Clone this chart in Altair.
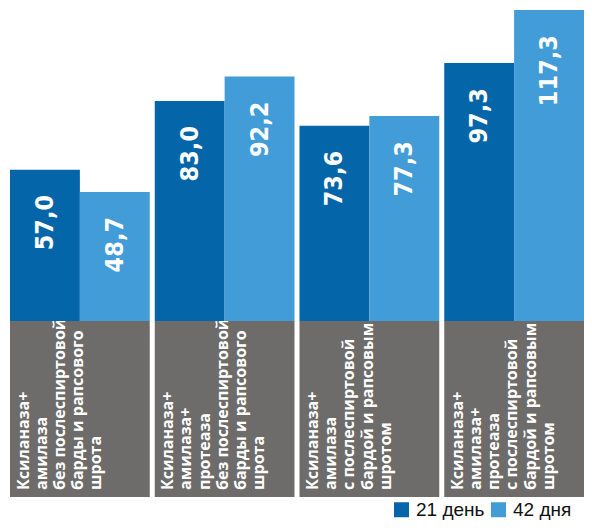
import altair as alt
import pandas as pd

# ---- data ----
group_lines = [
    ["Ксиланаза+", "амилаза", "без послеспиртовой", "барды и рапсового", "шрота"],
    ["Ксиланаза+", "амилаза+", "протеаза", "без послеспиртовой", "барды и рапсового", "шрота"],
    ["Ксиланаза+", "амилаза", "с послеспиртовой", "бардой и рапсовым", "шротом"],
    ["Ксиланаза+", "амилаза+", "протеаза", "с послеспиртовой", "бардой и рапсовым", "шротом"],
]
series = ["21 день", "42 дня"]
values_21 = [57.0, 83.0, 73.6, 97.3]
values_42 = [48.7, 92.2, 77.3, 117.3]

colors = ["#0565A9", "#419CD7"]
gray = "#6E6C6A"

groups = [" ".join(l) for l in group_lines]

rows = []
for g, v21, v42 in zip(groups, values_21, values_42):
    for s, v in zip(series, [v21, v42]):
        rows.append({"group": g, "series": s, "value": v,
                     "label": f"{v:.1f}".replace(".", ",")})
bars_df = pd.DataFrame(rows)
labels_df = pd.DataFrame({"group": groups, "lines": group_lines})

# ---- layout ----
W = 574
H_BAR = 311
H_BOX = 176
H = H_BAR + H_BOX

xscale = alt.Scale(domain=groups, paddingInner=5 / 144.75, paddingOuter=0)
yscale = alt.Scale(domain=[0, 117.3], range=[H_BAR, 0], nice=False, zero=True)
num_font = "Liberation Sans Narrow, DejaVu Sans Condensed, Roboto Condensed, Roboto, sans-serif"

x_enc = alt.X("group:N", scale=xscale, axis=None, sort=groups)
xoff_enc = alt.XOffset("series:N", scale=alt.Scale(domain=series, paddingInner=0, paddingOuter=0))

boxes = alt.Chart(labels_df).mark_rect(color=gray).encode(
    x=x_enc,
    y=alt.value(H_BAR),
    y2=alt.value(H),
)

cat_text = alt.Chart(labels_df).mark_text(
    angle=270, align="left", baseline="top", dy=5.5,
    font="Open Sans", fontWeight="bold", fontSize=16, lineHeight=18.2, color="white",
).encode(
    x=alt.X("group:N", scale=xscale, axis=None, sort=groups, bandPosition=0),
    y=alt.value(H - 7),
    text="lines",
)

bars = alt.Chart(bars_df).mark_bar().encode(
    x=x_enc,
    xOffset=xoff_enc,
    y=alt.Y("value:Q", scale=yscale, axis=None),
    color=alt.Color(
        "series:N",
        scale=alt.Scale(domain=series, range=colors),
        legend=alt.Legend(
            title=None,
            orient="none",
            legendX=382,
            legendY=490,
            direction="horizontal",
            symbolType="square",
            symbolSize=225,
            symbolStrokeWidth=0,
            labelFont="Liberation Sans, Arial, sans-serif",
            labelFontSize=19,
            labelColor="#111111",
            labelOffset=5,
            columnPadding=4,
            padding=0,
        ),
    ),
)

value_text = alt.Chart(bars_df).mark_text(
    angle=270, align="right", baseline="middle", dx=-25,
    font=num_font, fontWeight="bold", fontSize=25, color="white",
).encode(
    x=x_enc,
    xOffset=xoff_enc,
    y=alt.Y("value:Q", scale=yscale, axis=None),
    text="label:N",
)

chart = alt.layer(boxes, cat_text, bars, value_text).properties(
    width=W,
    height=H,
    autosize=alt.AutoSizeParams(type="none"),
    padding={"left": 2, "top": 2, "right": 0, "bottom": 27},
).configure_view(stroke=None)

chart.save("out.html", embed_options={"renderer": "svg", "actions": False})
